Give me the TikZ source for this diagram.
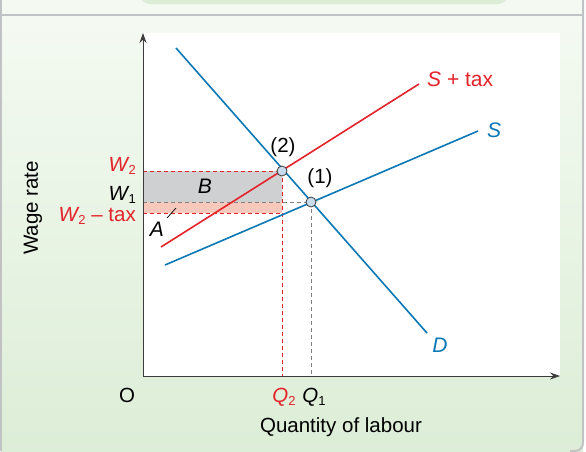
\documentclass[tikz,border=0pt]{standalone}
\usepackage{fontspec}
\setmainfont{Liberation Sans}
\usepackage{tikz}
\usetikzlibrary{arrows.meta,positioning,calc}
\definecolor{wagered}{RGB}{228,34,42}
\definecolor{curveblue}{RGB}{10,120,180}
\definecolor{axisgray}{RGB}{60,60,60}
\definecolor{panelgreen}{RGB}{220,237,214}
\definecolor{panellight}{RGB}{244,250,242}
\definecolor{framegray}{RGB}{192,194,196}
\definecolor{areagray}{RGB}{207,208,210}
\definecolor{areapink}{RGB}{246,201,188}
\definecolor{dotblue}{RGB}{200,220,238}
\newcommand{\subidx}[1]{\raisebox{-3.5pt}{\fontsize{13}{13}\selectfont\upshape #1}}

\begin{document}
\begin{tikzpicture}[
    x=1pt, y=-1pt,
    every node/.style={font=\fontsize{20.5}{22}\selectfont, inner sep=1pt},
    curve/.style={line width=1.6pt, color=#1},
    axisline/.style={line width=1pt, color=axisgray, -{Stealth[length=10pt,width=7pt]}},
    guide/.style={dashed, dash pattern=on 4pt off 3pt, line width=0.8pt, color=#1},
    eqdot/.style={circle, draw=axisgray, fill=dotblue, line width=0.8pt, minimum size=10pt, inner sep=0pt},
    curvelabel/.style={font=\fontsize{21}{23}\selectfont, color=#1}
]
\useasboundingbox (0,0) rectangle (586,451);

% Frame and background panels
\fill[panellight] (0,0) rectangle (584,15);
\fill[panelgreen, rounded corners=10pt] (140,-20) rectangle (508,4);
\shade[top color=panellight, bottom color=panelgreen, rounded corners=8pt] (1,15) rectangle (583,460);
\fill[panellight] (1,15) rectangle (583,30);
\draw[framegray, line width=2pt] (1,0) -- (1,451);
\draw[framegray, line width=2pt, rounded corners=8pt] (583,0) -- (583,451) -- (570,451);
\draw[framegray, line width=2pt] (0,15) -- (584,15);
\fill[white] (143,33) rectangle (560,376);

% Equilibrium points and curve ends
\coordinate (origin) at (143,376);
\coordinate (e2) at (282,171);
\coordinate (e1) at (311,202);
\coordinate (wtax) at (143,213);
\coordinate (dtop) at (176,48);
\coordinate (dbot) at (427,333);
\coordinate (sleft) at (165,265);
\coordinate (sright) at (478,131);
\coordinate (tleft) at (161,247);
\coordinate (tright) at (419,84);

% Shaded areas A and B
\fill[areagray] (origin |- e2) rectangle (e2 |- e1);
\fill[areapink] (origin |- e1) rectangle (e2 |- wtax);

% Dashed guides
\draw[guide=wagered] (origin |- e2) -- (e2);
\draw[guide=wagered] (wtax) -- (e2 |- wtax);
\draw[guide=wagered] (e2) -- (e2 |- origin);
\draw[guide=gray] (origin |- e1) -- (e1);
\draw[guide=gray] (e1) -- (e1 |- origin);

% Axes
\draw[axisline] (origin) -- (143,33);
\draw[axisline] (origin) -- (560,376);

% Curves
\draw[curve=curveblue] (dtop) -- (dbot);
\draw[curve=curveblue] (sleft) -- (sright);
\draw[curve=wagered] (tleft) -- (tright);

\node[eqdot] (pt2) at (e2) {};
\node[eqdot] (pt1) at (e1) {};
\node (lab2) at (283,147) {(2)};
\node (lab1) at (320,178) {(1)};

% Curve labels
\node[curvelabel=wagered, anchor=west] (stax) at (426,79) {\itshape S\upshape\ + tax};
\node[curvelabel=curveblue, anchor=west] (slab) at (486,130) {\itshape S};
\node[curvelabel=curveblue] (dlab) at (440,345) {\itshape D};

% Area labels
\node[font=\fontsize{21}{23}\selectfont\itshape] (blab) at (205,186) {B};
\node[font=\fontsize{21}{23}\selectfont\itshape] (alab) at (157,229) {A};
\coordinate (atick) at (176,208);
\draw[line width=0.7pt] (167,218) -- (atick);

% Wage labels
\node[anchor=east, color=wagered] (w2) at (137,166) {\itshape W\kern0.5pt\subidx{2}};
\node[anchor=east] (w1) at (137,195) {\itshape W\kern0.5pt\subidx{1}};
\node[anchor=east, color=wagered] (w2tax) at (137,216) {\itshape W\kern0.5pt\subidx{2}\upshape\ -- tax};

% Quantity labels
\node (olab) at (127,395) {O};
\node[color=wagered] (q2) at (284,397) {\itshape Q\subidx{2}};
\node (q1) at (314,397) {\itshape Q\subidx{1}};

% Axis titles
\node (xtitle) at (341,427) {Quantity of labour};
\node[rotate=90] (ytitle) at (33,208) {Wage rate};
\end{tikzpicture}
\end{document}
